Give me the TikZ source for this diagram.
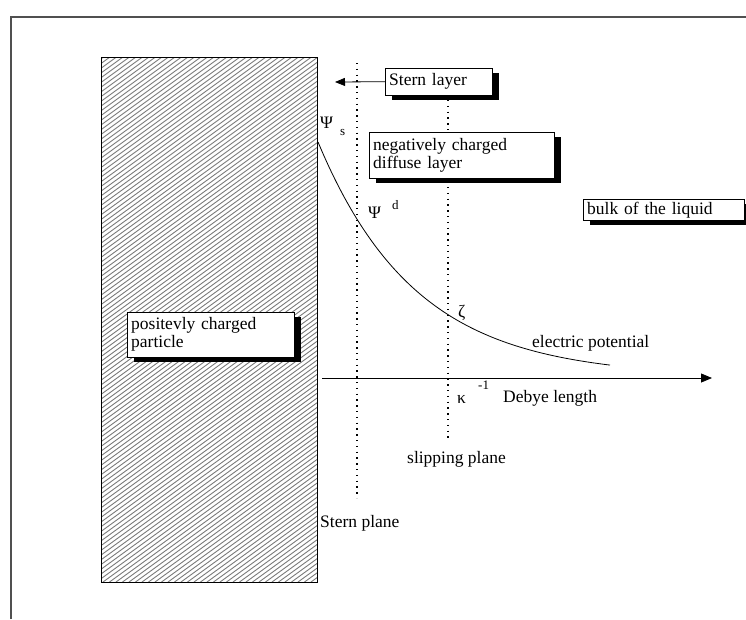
\documentclass[tikz,border=0pt]{standalone}
\usepackage{fontspec}
\setmainfont{Liberation Serif}
\usetikzlibrary{arrows.meta,positioning,shadows}
\definecolor{hatchgray}{HTML}{7A7A7A}
\definecolor{framegray}{HTML}{505050}
\tikzset{
  labelbox/.style={draw,fill=white,anchor=north west,align=left,inner xsep=4pt,inner ysep=1.5pt,
    drop shadow={shadow xshift=7pt,shadow yshift=-5pt,fill=black,opacity=1}},
  planeline/.style={line width=1.3pt,dash pattern=on 1.3pt off 4.5pt},
  txt/.style={anchor=west,inner sep=0pt},
  smalltxt/.style={txt,font=\fontsize{13}{13}\selectfont},
}

\begin{document}
\begin{tikzpicture}[x=1pt,y=-1pt,font=\fontsize{17.5}{18}\selectfont]
  \useasboundingbox (0,0) rectangle (746,619);
  \draw[framegray,line width=1.3pt] (11,619) -- (11,17) -- (746,17);
  % particle
  \begin{scope}
    \clip (101,57) rectangle (317,582);
    \foreach \k in {0,...,146}{\draw[hatchgray,line width=0.9pt] (-625+\k*6.5,582) -- ++(722,-525);}
  \end{scope}
  \draw[line width=0.8pt] (101,57) rectangle (317,582);
  % planes
  \draw[planeline] (357,63) -- (357,498);
  \draw[planeline] (448,100) -- (448,440);
  % potential and axis
  \draw[line width=0.8pt] plot[domain=318:610,samples=60,smooth] (\x,{377-235*exp(-(\x-318)/98)});
  \coordinate (axstart) at (322,378);
  \coordinate (axend) at (712,378);
  \draw[line width=0.8pt,-{Triangle[length=11pt,width=9pt]}] (axstart) -- (axend);
  % boxes
  \node[labelbox,text width=99pt,minimum height=27pt] (sternbox) at (385,68) {Stern layer};
  \coordinate (sterntip) at (335,82);
  \draw[line width=0.8pt,-{Triangle[length=10pt,width=8pt]}] (sternbox.west) -- (sterntip);
  \node[labelbox,text width=177pt,minimum height=46pt] (diffbox) at (369,132) {negatively charged\\diffuse layer};
  \node[labelbox,text width=153pt,minimum height=21pt] (bulkbox) at (583,199) {bulk of the liquid};
  \node[labelbox,text width=159pt,minimum height=45pt] (partbox) at (127,312) {positevly charged\\particle};
  % labels
  \node[txt] (psis) at (320,123) {Ψ};
  \node[smalltxt] (psissub) at (340,132) {s};
  \node[txt] (psid) at (368,213) {Ψ};
  \node[smalltxt] (psidsup) at (392,205) {d};
  \node[txt] (zeta) at (458,313) {ζ};
  \node[txt] (kappa) at (457,399) {κ};
  \node[smalltxt] (kappaexp) at (478,385) {-1};
  \node[txt] (pottext) at (532,343) {electric potential};
  \node[txt] (debye) at (503,398) {Debye length};
  \node[txt] (slip) at (407,459) {slipping plane};
  \node[txt] (sternplane) at (320,523) {Stern plane};
\end{tikzpicture}
\end{document}
